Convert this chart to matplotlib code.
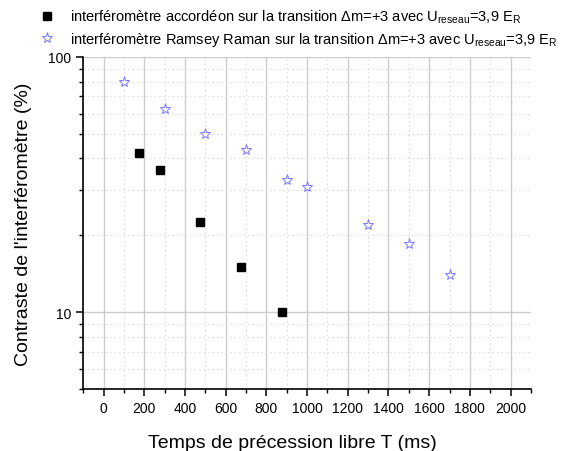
import matplotlib
matplotlib.use("Agg")
import matplotlib.pyplot as plt
from matplotlib.ticker import FixedLocator, NullFormatter, MultipleLocator

plt.rcParams['font.family'] = ['Liberation Sans', 'DejaVu Sans']
plt.rcParams['mathtext.fontset'] = 'custom'
plt.rcParams['mathtext.rm'] = 'Liberation Sans'
plt.rcParams['mathtext.it'] = 'Liberation Sans'

# interféromètre accordéon
t_accordeon = [175, 275, 475, 675, 875]
c_accordeon = [42, 36, 22.5, 15, 10]

# interféromètre Ramsey Raman
t_ramsey = [100, 300, 500, 700, 900, 1000, 1300, 1500, 1700]
c_ramsey = [80, 62.5, 50, 43, 33, 31, 22, 18.5, 14]

label_acc = r'interféromètre accordéon sur la transition $\Delta$m=+3 avec U$_{\rm reseau}$=3,9 E$_{\rm R}$'
label_ram = r'interféromètre Ramsey Raman sur la transition $\Delta$m=+3 avec U$_{\rm reseau}$=3,9 E$_{\rm R}$'

fig = plt.figure(figsize=(5.66, 4.52), dpi=100)
ax = fig.add_axes([0.147, 0.137, 0.791, 0.735])

ax.plot(t_accordeon, c_accordeon, linestyle='none', marker='s', markersize=5.5,
        color='black', label=label_acc, zorder=3)
ax.plot(t_ramsey, c_ramsey, linestyle='none', marker='*', markersize=8,
        markerfacecolor='white', markeredgecolor='#7878ff', markeredgewidth=0.7,
        label=label_ram, zorder=3)

ax.set_yscale('log')
ax.set_xlim(-100, 2100)
ax.set_ylim(5, 100)

ax.xaxis.set_major_locator(MultipleLocator(200))
ax.xaxis.set_minor_locator(MultipleLocator(100))
ax.yaxis.set_major_locator(FixedLocator([10, 100]))
ax.yaxis.set_minor_locator(FixedLocator([5, 6, 7, 8, 9, 20, 30, 40, 50, 60, 70, 80, 90]))
ax.yaxis.set_minor_formatter(NullFormatter())
ax.set_yticklabels(['10', '100'])

ax.grid(which='major', color='#cccccc', linewidth=1.0, linestyle='-')
ax.grid(which='minor', color='#dddddd', linewidth=0.8, linestyle=(0, (1.5, 2.5)))
ax.set_axisbelow(True)

for s in ['top', 'right']:
    ax.spines[s].set_visible(False)
for s in ['left', 'bottom']:
    ax.spines[s].set_linewidth(1.2)

ax.tick_params(which='major', direction='out', length=5, width=1.1, labelsize=10)
ax.tick_params(which='minor', direction='out', length=3, width=1.0)

ax.set_xlabel('Temps de précession libre T (ms)', fontsize=14)
ax.xaxis.set_label_coords(0.467, -0.135)
ax.set_ylabel("Contraste de l'interféromètre (%)", fontsize=14)
ax.yaxis.set_label_coords(-0.115, 0.5)

fig.legend(loc='upper left', bbox_to_anchor=(0.042, 1.0), frameon=False,
           fontsize=10.5, handletextpad=0.6, labelspacing=0.35, borderaxespad=0.2)

fig.savefig('out.png', dpi=100)
